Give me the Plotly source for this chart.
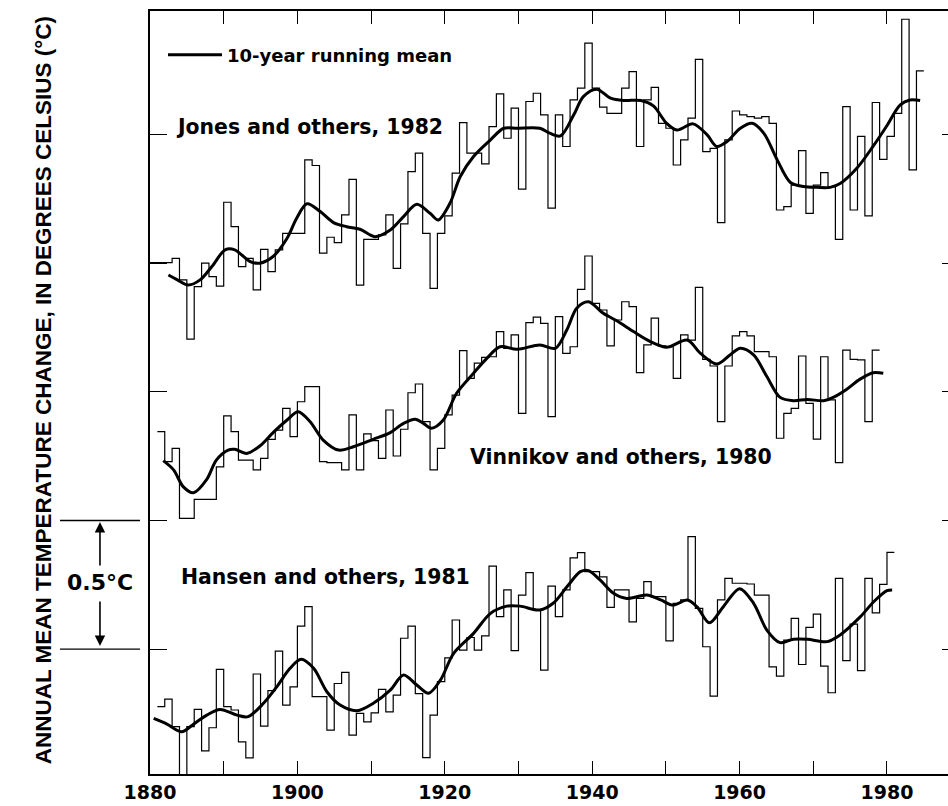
import plotly.graph_objects as go

# ---------------- data (chart units in degC) ----------------
jones_years = list(range(1880, 1985))
jones_annual = [
    1.503, 1.503, 1.503, 1.520, 1.436, 1.206, 1.410, 1.501, 1.449, 1.412,
    1.738, 1.643, 1.488, 1.520, 1.397, 1.555, 1.468, 1.553, 1.617, 1.617,
    1.617, 1.903, 1.881, 1.540, 1.602, 1.581, 1.689, 1.827, 1.416, 1.594,
    1.594, 1.611, 1.689, 1.481, 1.654, 1.857, 1.929, 1.617, 1.403, 1.617,
    1.685, 1.851, 2.048, 1.929, 1.929, 1.887, 2.032, 2.160, 1.987, 2.104,
    1.789, 2.130, 2.162, 2.078, 1.715, 2.078, 1.955, 2.136, 2.182, 2.357,
    2.182, 2.108, 2.084, 2.084, 2.182, 2.246, 1.955, 2.136, 2.185, 2.045,
    2.026, 1.883, 1.981, 2.065, 2.294, 1.935, 1.948, 1.659, 1.981, 2.093,
    2.078, 2.071, 2.065, 2.071, 2.045, 1.708, 1.721, 1.805, 1.939, 1.695,
    1.805, 1.853, 1.799, 1.594, 2.110, 1.708, 1.994, 1.685, 2.126, 1.905,
    1.994, 2.084, 2.450, 1.864, 2.249,
]
jones_mean_years = [
    1882.5, 1883.6, 1885.2, 1886.8, 1888.4, 1890.2, 1891.5, 1893.6, 1894.9, 1896.7,
    1898.6, 1899.9, 1901.3, 1903.1, 1904.9, 1906.7, 1908.5, 1910.5, 1912.6, 1914.4,
    1916.2, 1918.0, 1919.1, 1920.7, 1922.1, 1923.9, 1926.2, 1928.0, 1929.8, 1932.9,
    1934.3, 1935.7, 1937.5, 1938.8, 1940.6, 1942.5, 1944.3, 1946.6, 1948.3, 1950.1,
    1951.5, 1953.7, 1955.6, 1956.9, 1958.3, 1960.1, 1961.7, 1963.3, 1965.1, 1966.9,
    1968.7, 1970.5, 1972.3, 1973.7, 1975.9, 1978.1, 1979.9, 1981.8, 1983.1, 1984.5,
]
jones_mean = [
    1.455, 1.438, 1.416, 1.436, 1.488, 1.553, 1.553, 1.507, 1.501, 1.527,
    1.598, 1.676, 1.732, 1.702, 1.659, 1.643, 1.633, 1.604, 1.630, 1.682,
    1.730, 1.695, 1.669, 1.734, 1.838, 1.916, 1.981, 2.026, 2.026, 2.026,
    2.006, 1.996, 2.078, 2.149, 2.178, 2.143, 2.134, 2.134, 2.113, 2.045,
    2.019, 2.043, 2.000, 1.955, 1.974, 2.026, 2.045, 2.006, 1.903, 1.815,
    1.799, 1.796, 1.796, 1.812, 1.870, 1.955, 2.032, 2.117, 2.136, 2.134,
]

vinnikov_years = list(range(1881, 1979))
vinnikov_annual = [
    0.846, 0.729, 0.781, 0.508, 0.508, 0.582, 0.582, 0.582, 0.709, 0.907,
    0.846, 0.735, 0.735, 0.697, 0.742, 0.816, 0.852, 0.936, 0.826, 0.962,
    1.021, 1.021, 0.729, 0.725, 0.725, 0.697, 0.911, 0.697, 0.837, 0.811,
    0.742, 0.930, 0.751, 0.855, 0.997, 1.031, 0.885, 0.697, 0.781, 0.911,
    0.988, 1.161, 1.053, 1.112, 1.135, 1.137, 1.235, 1.170, 1.222, 0.917,
    1.270, 1.291, 1.267, 0.904, 1.293, 1.150, 1.176, 1.399, 1.529, 1.345,
    1.319, 1.179, 1.280, 1.351, 1.332, 1.075, 1.183, 1.287, 1.179, 1.176,
    1.053, 1.222, 1.202, 1.407, 1.127, 1.101, 0.885, 1.101, 1.218, 1.235,
    1.218, 1.157, 1.157, 1.137, 0.820, 0.917, 0.936, 1.140, 0.956, 0.817,
    1.137, 0.969, 0.725, 1.163, 1.127, 1.125, 0.885, 1.163,
]
vinnikov_mean_years = [
    1881.8, 1883.2, 1884.5, 1885.9, 1887.7, 1889.0, 1890.6, 1891.5, 1893.1, 1894.9,
    1896.7, 1898.6, 1900.1, 1901.7, 1903.5, 1905.6, 1907.6, 1910.3, 1912.6, 1914.4,
    1916.0, 1917.1, 1918.2, 1919.8, 1921.6, 1923.9, 1925.7, 1927.5, 1929.8, 1932.9,
    1935.0, 1936.6, 1937.9, 1939.5, 1941.5, 1943.4, 1945.6, 1947.9, 1950.1, 1952.9,
    1954.7, 1956.9, 1958.7, 1960.1, 1961.9, 1963.7, 1965.5, 1967.3, 1969.2, 1971.4,
    1972.7, 1974.5, 1976.3, 1978.1, 1979.5,
]
vinnikov_mean = [
    0.733, 0.697, 0.632, 0.608, 0.660, 0.735, 0.774, 0.777, 0.761, 0.790,
    0.842, 0.891, 0.923, 0.885, 0.813, 0.774, 0.787, 0.816, 0.842, 0.878,
    0.894, 0.878, 0.859, 0.891, 0.995, 1.073, 1.131, 1.176, 1.166, 1.183,
    1.170, 1.244, 1.326, 1.351, 1.306, 1.276, 1.235, 1.196, 1.174, 1.202,
    1.150, 1.109, 1.144, 1.170, 1.144, 1.060, 0.979, 0.966, 0.971, 0.966,
    0.979, 1.010, 1.049, 1.075, 1.073,
]

hansen_years = list(range(1881, 1981))
hansen_annual = [
    -0.224, -0.195, -0.302, -0.510, -0.302, -0.235, -0.396, -0.306, -0.079, -0.224,
    -0.237, -0.361, -0.423, -0.097, -0.300, -0.162, -0.008, -0.218, -0.147, 0.089,
    0.165, -0.185, -0.185, -0.315, -0.134, -0.091, -0.335, -0.250, -0.283, -0.248,
    -0.157, -0.244, -0.179, 0.042, 0.089, -0.173, -0.422, -0.257, -0.127, -0.034,
    0.113, -0.004, 0.045, -0.004, 0.051, 0.323, 0.126, 0.230, -0.006, 0.210,
    0.297, 0.152, -0.082, 0.245, 0.126, 0.230, 0.355, 0.375, 0.301, 0.301,
    0.281, 0.162, 0.230, 0.230, 0.106, 0.197, 0.262, 0.204, 0.204, 0.032,
    0.178, 0.191, 0.437, 0.158, 0.009, -0.183, 0.191, 0.275, 0.256, 0.256,
    0.253, 0.210, 0.210, -0.069, -0.105, 0.035, 0.119, -0.060, 0.084, 0.136,
    -0.066, -0.170, 0.275, -0.045, 0.097, -0.084, 0.275, 0.141, 0.252, 0.376,
]
hansen_mean_years = [
    1880.5, 1882.3, 1884.3, 1885.9, 1887.7, 1889.5, 1891.8, 1893.3, 1895.4, 1897.2,
    1899.0, 1900.5, 1902.2, 1904.0, 1905.8, 1908.1, 1910.3, 1912.6, 1914.4, 1916.2,
    1917.8, 1919.4, 1921.2, 1923.9, 1926.2, 1928.4, 1930.2, 1932.9, 1934.7, 1936.6,
    1938.4, 1939.5, 1941.1, 1942.9, 1944.7, 1947.4, 1949.3, 1951.0, 1952.9, 1954.2,
    1955.9, 1957.8, 1960.0, 1961.9, 1963.7, 1965.5, 1967.3, 1969.2, 1971.9, 1973.6,
    1976.4, 1978.2, 1980.0, 1980.7,
]
hansen_mean = [
    -0.270, -0.292, -0.322, -0.292, -0.257, -0.235, -0.257, -0.263, -0.211, -0.147,
    -0.075, -0.040, -0.075, -0.166, -0.218, -0.240, -0.211, -0.160, -0.101, -0.140,
    -0.172, -0.121, -0.017, 0.061, 0.139, 0.167, 0.167, 0.152, 0.178, 0.243,
    0.301, 0.305, 0.268, 0.217, 0.197, 0.210, 0.191, 0.171, 0.191, 0.165,
    0.102, 0.165, 0.235, 0.178, 0.074, 0.025, 0.038, 0.038, 0.029, 0.054,
    0.126, 0.184, 0.227, 0.230,
]

x_ticks = list(range(1880, 1990, 10))
x_tick_labels = ["1880", "", "1900", "", "1920", "", "1940", "", "1960", "", "1980"]
y_ticks = [0.0, 0.5, 1.0, 1.5, 2.0]

series_labels = [
    ("Jones and others, 1982", 1883.2, 2.031),
    ("Vinnikov and others, 1980", 1923.1, 0.747),
    ("Hansen and others, 1981", 1883.9, 0.280),
]
scale_low, scale_high = 0.0, 0.5

# ---------------- figure ----------------
FONT = "DejaVu Sans, Liberation Sans, Arial, sans-serif"
fig = go.Figure()


def step_xy(years, vals):
    return years + [years[-1] + 1], vals + [vals[-1]]


for yrs, vals, ax in [
    (jones_years, jones_annual, "y"),
    (vinnikov_years, vinnikov_annual, "y"),
    (hansen_years, hansen_annual, "y2"),
]:
    sx, sy = step_xy(yrs, vals)
    fig.add_trace(go.Scatter(x=sx, y=sy, mode="lines", line=dict(shape="hv", color="black", width=1.2),
                             showlegend=False, hoverinfo="skip", yaxis=ax))

for i, (yrs, vals) in enumerate([(jones_mean_years, jones_mean),
                                 (vinnikov_mean_years, vinnikov_mean),
                                 (hansen_mean_years, hansen_mean)]):
    fig.add_trace(go.Scatter(x=yrs, y=vals, mode="lines",
                             line=dict(shape="spline", smoothing=0.9, color="black", width=3),
                             name="10-year running mean", showlegend=(i == 0), hoverinfo="skip"))

for text, xv, yv in series_labels:
    fig.add_annotation(x=xv, y=yv, xref="x", yref="y", text=text, showarrow=False,
                       xanchor="left", yanchor="middle",
                       font=dict(family=FONT, size=20.4, color="black", weight="bold"))

# y-axis title
fig.add_annotation(x=-0.134, y=0.503, xref="paper", yref="paper",
                   text="ANNUAL MEAN TEMPERATURE CHANGE, IN DEGREES CELSIUS (°C)",
                   textangle=-90, showarrow=False, xanchor="center", yanchor="middle",
                   font=dict(family="Liberation Sans, Arial, sans-serif",
                             size=22.5, color="black", weight="bold"))

# 0.5 degC scale bar
for yv in (scale_low, scale_high):
    fig.add_shape(type="line", xref="paper", yref="y", x0=-0.1128, x1=-0.0125, y0=yv, y1=yv,
                  line=dict(color="black", width=1.3))
fig.add_annotation(x=-0.0627, y=scale_high - 0.006, xref="paper", yref="y", text="", showarrow=True,
                   ax=0, ay=45, arrowhead=2, arrowsize=1.3, arrowwidth=1.6, arrowcolor="black")
fig.add_annotation(x=-0.0627, y=scale_low + 0.012, xref="paper", yref="y", text="", showarrow=True,
                   ax=0, ay=-46, arrowhead=2, arrowsize=1.3, arrowwidth=1.6, arrowcolor="black")
fig.add_annotation(x=-0.0627, y=(scale_low + scale_high) / 2 + 0.007, xref="paper", yref="y",
                   text="0.5°C", showarrow=False, xanchor="center", yanchor="middle",
                   font=dict(family=FONT, size=22, color="black", weight="bold"))

fig.update_layout(
    width=948, height=806,
    margin=dict(l=150, r=0, t=11, b=32),
    paper_bgcolor="white", plot_bgcolor="white",
    showlegend=True,
    legend=dict(x=0.0163, y=0.9423, xanchor="left", yanchor="middle", bgcolor="rgba(0,0,0,0)",
                font=dict(family=FONT, size=18, color="black", weight="bold"), itemwidth=54),
    xaxis=dict(range=[1880, 1988.28], tickvals=x_ticks, ticktext=x_tick_labels,
               ticks="inside", ticklen=13, tickwidth=1.4, tickcolor="black",
               showline=True, linecolor="black", linewidth=1.5, mirror="ticks",
               showgrid=False, zeroline=False,
               tickfont=dict(family=FONT, size=19, color="black", weight="bold")),
    yaxis=dict(range=[-0.486, 2.482], tickvals=y_ticks, ticks="inside", ticklen=17, tickwidth=1.3,
               tickcolor="black", showticklabels=False, showline=True, linecolor="black",
               linewidth=1.5, showgrid=False, zeroline=False),
    yaxis2=dict(matches="y", overlaying="y", side="right", tickvals=y_ticks, ticks="inside",
                ticklen=6, tickwidth=1.3, tickcolor="black", showticklabels=False,
                showline=False, showgrid=False, zeroline=False),
)

fig.write_html("out.html", config={"displayModeBar": False},
               post_script="document.body.style.margin='0';document.body.style.overflow='hidden';")
